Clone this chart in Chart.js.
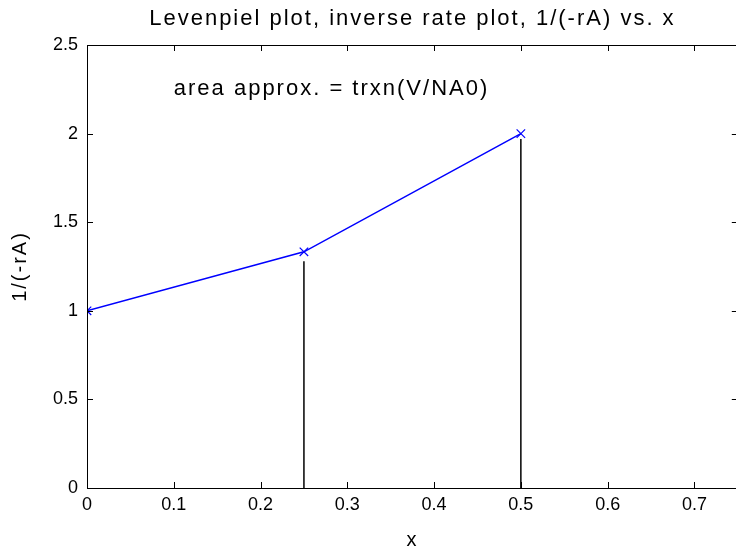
<!DOCTYPE html>
<html>
<head>
<meta charset="utf-8">
<script src="https://cdn.jsdelivr.net/npm/chart.js"></script>
<style>
  html, body { margin:0; padding:0; background:#fff; overflow:hidden; }
  #wrap { width:745px; height:552px; }
</style>
</head>
<body>
<div id="wrap"><canvas id="levChart" width="745" height="552"></canvas></div>
<script>
// conversion x and inverse rate 1/(-rA)
const xVals = [0, 0.25, 0.5];
const invRate = [1, 1.333, 2];
// vertical lines under the trapezoid points
const stemX = [0.25, 0.5];
const stemTop = [1.28, 1.97];

const xTicks = [0, 0.1, 0.2, 0.3, 0.4, 0.5, 0.6, 0.7];
const yTicks = [0, 0.5, 1, 1.5, 2, 2.5];

const titleText = 'Levenpiel plot, inverse rate plot, 1/(-rA) vs. x';
const noteText = 'area approx. = trxn(V/NA0)';
const noteAt = [0.1, 2.25];
const xLabel = 'x';
const yLabel = '1/(-rA)';

const FONT = '"Liberation Sans", Arial, sans-serif';

const stemSets = stemX.map((sx, i) => ({
  data: [{x: sx, y: 0}, {x: sx, y: stemTop[i]}],
  borderColor: '#000', borderWidth: 1.5, pointRadius: 0, fill: false
}));

// draws box, inward ticks, title, axis labels and note like matlab
const boxPlugin = {
  id: 'box',
  afterDraw(chart){
    const {ctx, chartArea: a, scales: {x, y}} = chart;
    ctx.save();
    ctx.strokeStyle = '#000';
    ctx.lineWidth = 1;
    ctx.strokeRect(a.left + 0.5, a.top + 0.5, a.right - a.left, a.bottom - a.top);
    ctx.beginPath();
    x.ticks.forEach(t => {
      const px = Math.round(x.getPixelForValue(t.value)) + 0.5;
      ctx.moveTo(px, a.bottom); ctx.lineTo(px, a.bottom - 6);
      ctx.moveTo(px, a.top); ctx.lineTo(px, a.top + 6);
    });
    y.ticks.forEach(t => {
      const py = Math.round(y.getPixelForValue(t.value)) + 0.5;
      ctx.moveTo(a.left, py); ctx.lineTo(a.left + 6, py);
      ctx.moveTo(a.right, py); ctx.lineTo(a.right - 6, py);
    });
    ctx.stroke();
    ctx.fillStyle = '#000';
    ctx.textBaseline = 'middle';
    ctx.letterSpacing = '2px';
    ctx.font = '22px ' + FONT;
    ctx.textAlign = 'center';
    ctx.fillText(titleText, (a.left + a.right) / 2, 19);
    ctx.textAlign = 'left';
    ctx.fillText(noteText, x.getPixelForValue(noteAt[0]), y.getPixelForValue(noteAt[1]));
    ctx.textAlign = 'center';
    ctx.font = '20px ' + FONT;
    ctx.fillText(xLabel, (a.left + a.right) / 2, 540);
    ctx.translate(20, (a.top + a.bottom) / 2);
    ctx.rotate(-Math.PI / 2);
    ctx.fillText(yLabel, 0, 0);
    ctx.restore();
  }
};

new Chart(document.getElementById('levChart').getContext('2d'), {
  type: 'line',
  data: {
    datasets: [{
      data: xVals.map((v, i) => ({x: v, y: invRate[i]})),
      borderColor: '#0000ff', borderWidth: 1.5,
      pointStyle: 'crossRot', pointRadius: 6, pointBorderColor: '#0000ff', pointBorderWidth: 1.2,
      fill: false
    }, ...stemSets]
  },
  options: {
    responsive: false, animation: false,
    layout: { padding: { top: 45, right: 6, left: 0, bottom: 0 } },
    plugins: { legend: { display: false }, tooltip: { enabled: false } },
    scales: {
      x: {
        type: 'linear', min: 0, max: 0.75,
        afterBuildTicks(s){ s.ticks = xTicks.map(v => ({value: v})); },
        afterFit(s){ s.height = 64; s.paddingLeft = 0; s.paddingRight = 0; },
        grid: { display: false, drawTicks: false },
        border: { color: '#000', width: 1 },
        ticks: { padding: 6, color: '#000', font: { size: 18, family: FONT },
                 callback: v => String(+v.toFixed(1)) }
      },
      y: {
        min: 0, max: 2.5,
        afterBuildTicks(s){ s.ticks = yTicks.map(v => ({value: v})); },
        afterFit(s){ s.width = 87; s.paddingTop = 0; s.paddingBottom = 0; },
        grid: { display: false, drawTicks: false },
        border: { color: '#000', width: 1 },
        ticks: { padding: 9, color: '#000', font: { size: 18, family: FONT },
                 callback: v => String(+v.toFixed(1)) }
      }
    }
  },
  plugins: [boxPlugin]
});
</script>
</body>
</html>
